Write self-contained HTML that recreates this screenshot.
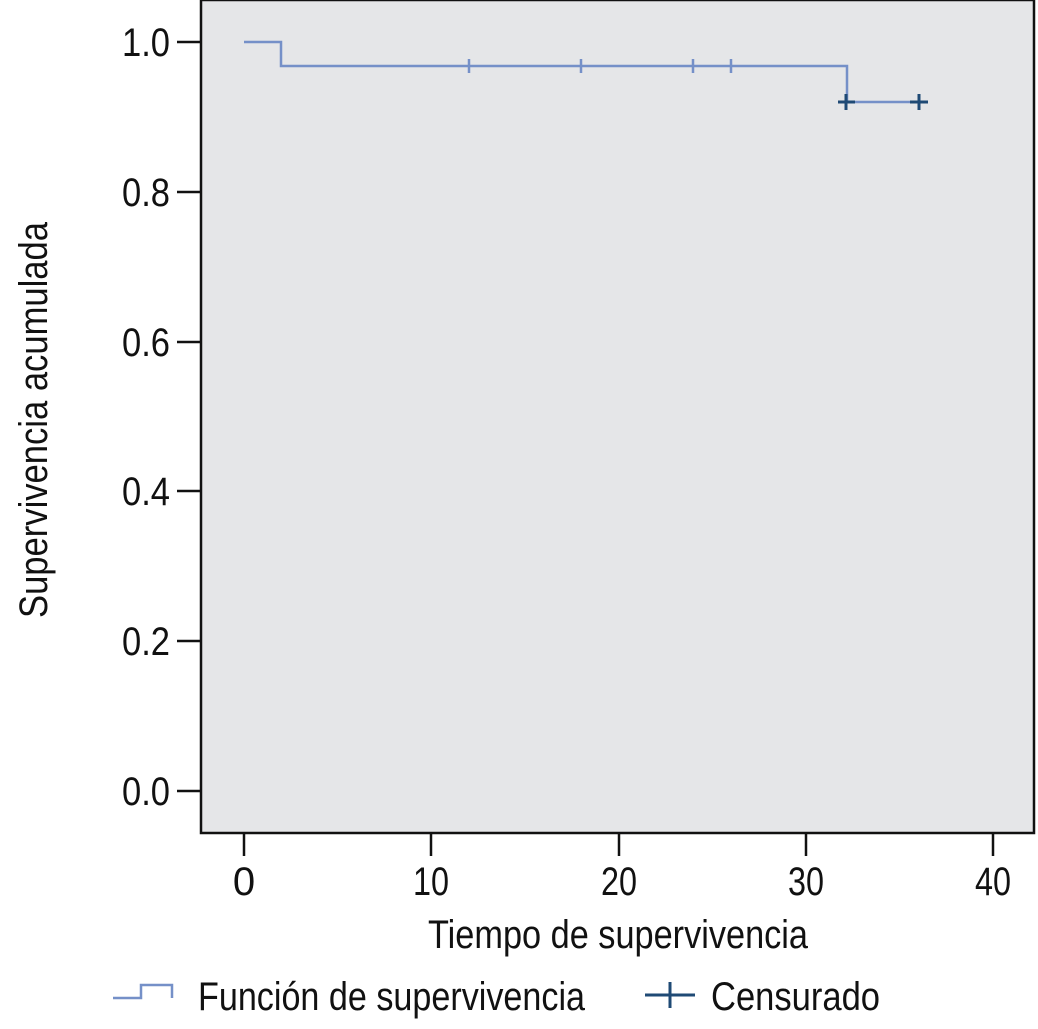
<!DOCTYPE html>
<html><head><style>html,body{margin:0;padding:0;background:#fff}</style></head>
<body>
<svg width="1038" height="1024" viewBox="0 0 1038 1024" xmlns="http://www.w3.org/2000/svg" font-family="Liberation Sans, sans-serif" fill="#111">
<rect x="201" y="0" width="833" height="833" fill="#e5e6e8" stroke="#111" stroke-width="2.5"/>
<g stroke="#111" stroke-width="2.5">
<line x1="177" y1="42" x2="201" y2="42"/><line x1="177" y1="192" x2="201" y2="192"/><line x1="177" y1="342" x2="201" y2="342"/><line x1="177" y1="491" x2="201" y2="491"/><line x1="177" y1="641" x2="201" y2="641"/><line x1="177" y1="791" x2="201" y2="791"/>
<line x1="244" y1="833" x2="244" y2="856"/><line x1="431" y1="833" x2="431" y2="856"/><line x1="619" y1="833" x2="619" y2="856"/><line x1="806" y1="833" x2="806" y2="856"/><line x1="993" y1="833" x2="993" y2="856"/>
</g>
<g font-size="40" text-anchor="end">
<text x="170" y="56" textLength="48" lengthAdjust="spacingAndGlyphs">1.0</text>
<text x="170" y="206" textLength="48" lengthAdjust="spacingAndGlyphs">0.8</text>
<text x="170" y="356" textLength="48" lengthAdjust="spacingAndGlyphs">0.6</text>
<text x="170" y="505" textLength="48" lengthAdjust="spacingAndGlyphs">0.4</text>
<text x="170" y="655" textLength="48" lengthAdjust="spacingAndGlyphs">0.2</text>
<text x="170" y="805" textLength="48" lengthAdjust="spacingAndGlyphs">0.0</text>
</g>
<g font-size="40" text-anchor="middle">
<text x="244" y="895">0</text>
<text x="431" y="895" textLength="36" lengthAdjust="spacingAndGlyphs">10</text>
<text x="619" y="895" textLength="36" lengthAdjust="spacingAndGlyphs">20</text>
<text x="806" y="895" textLength="36" lengthAdjust="spacingAndGlyphs">30</text>
<text x="993" y="895" textLength="36" lengthAdjust="spacingAndGlyphs">40</text>
</g>
<text x="428" y="948" font-size="40" textLength="380" lengthAdjust="spacingAndGlyphs">Tiempo de supervivencia</text>
<text transform="translate(47,618) rotate(-90)" font-size="40" textLength="396" lengthAdjust="spacingAndGlyphs">Supervivencia acumulada</text>
<g fill="none" stroke="#7590c8" stroke-width="2.5">
<polyline points="244,42 281,42 281,66 847,66 847,102 919,102"/>
<line x1="469" y1="59" x2="469" y2="73"/><line x1="581" y1="59" x2="581" y2="73"/><line x1="693" y1="59" x2="693" y2="73"/><line x1="731" y1="59" x2="731" y2="73"/>
<polyline points="113,998 141,998 141,985 172,985 172,998"/>
</g>
<g stroke="#1f4a75" stroke-width="3">
<line x1="838" y1="102" x2="855" y2="102"/><line x1="846" y1="94" x2="846" y2="110"/>
<line x1="910" y1="102" x2="928" y2="102"/><line x1="919" y1="94" x2="919" y2="110"/>
<line x1="645" y1="995" x2="695" y2="995"/><line x1="670" y1="982" x2="670" y2="1008"/>
</g>
<text x="198" y="1010" font-size="40" textLength="387" lengthAdjust="spacingAndGlyphs">Función de supervivencia</text>
<text x="711" y="1010" font-size="40" textLength="169" lengthAdjust="spacingAndGlyphs">Censurado</text>
</svg>
</body></html>
